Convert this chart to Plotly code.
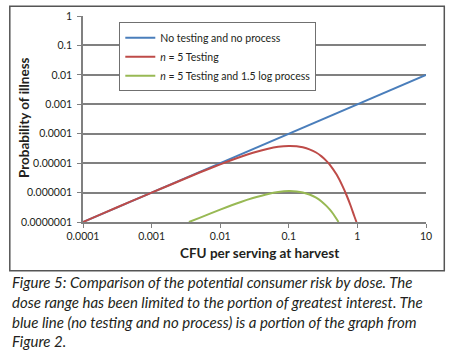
import plotly.graph_objects as go

# ---- data ----
x_blue = [0.0001, 10]
y_blue = [1e-7, 1e-2]

x_red = [0.0001, 0.0002, 0.0005, 0.001, 0.002, 0.005, 0.01, 0.02, 0.03, 0.05, 0.07,
         0.1, 0.13, 0.16, 0.2, 0.25, 0.3, 0.35, 0.4, 0.5, 0.6, 0.7, 0.8, 0.9, 0.97]
y_red = [1.0e-7, 2.0e-7, 5.0e-7, 9.9e-7, 1.96e-6, 4.8e-6, 9.1e-6, 1.65e-5, 2.25e-5, 3.1e-5, 3.6e-5,
         3.85e-5, 3.75e-5, 3.45e-5, 2.95e-5, 2.3e-5, 1.7e-5, 1.22e-5, 8.6e-6, 4.0e-6, 1.75e-6,
         7.8e-7, 3.5e-7, 1.6e-7, 1.0e-7]

x_green = [0.0035, 0.005, 0.01, 0.02, 0.03, 0.05, 0.07, 0.1, 0.13, 0.16, 0.2, 0.25, 0.3,
           0.35, 0.4, 0.45, 0.5, 0.53]
y_green = [1.0e-7, 1.38e-7, 2.64e-7, 4.8e-7, 6.5e-7, 9.0e-7, 1.04e-6, 1.12e-6, 1.09e-6,
           1.01e-6, 8.6e-7, 6.7e-7, 5.0e-7, 3.6e-7, 2.57e-7, 1.8e-7, 1.24e-7, 1.0e-7]

series_names = ["No testing and no process", "<i>n</i> = 5 Testing",
                "<i>n</i> = 5 Testing and 1.5 log process"]
series_colors = ["#4A7EBB", "#BE4B48", "#98B954"]

x_tickvals = [0.0001, 0.001, 0.01, 0.1, 1, 10]
x_ticktext = ["0.0001", "0.001", "0.01", "0.1", "1", "10"]
y_tickvals = [1e-7, 1e-6, 1e-5, 1e-4, 1e-3, 1e-2, 1e-1, 1]
y_ticktext = ["0.0000001", "0.000001", "0.00001", "0.0001", "0.001", "0.01", "0.1", "1"]

x_title = "CFU per serving at harvest"
y_title = "Probability of illness"
caption_lines = [
    "Figure 5: Comparison of the potential consumer risk by dose. The",
    "dose range has been limited to the portion of greatest interest. The",
    "blue line (no testing and no process) is a portion of the graph from",
    "Figure 2.",
]

CHART_FONT = "Lato, Liberation Sans, sans-serif"
CAPTION_FONT = "Lato, Open Sans, sans-serif"
GRID = "#808080"
TXT = "#231F20"

fig = go.Figure()
for xs, ys, name, col in zip([x_blue, x_red, x_green], [y_blue, y_red, y_green],
                             series_names, series_colors):
    fig.add_trace(go.Scatter(x=xs, y=ys, mode="lines", name=name,
                             line=dict(color=col, width=2, shape="spline", smoothing=0.6)))

# plot area in pixels: x 82.7..425.7, y 15.7..221.7
L, R, T, B = 82.7, 425.7, 15.7, 221.7
W, H = R - L, B - T


def px(xp):
    return (xp - L) / W


def py(yp):
    return (B - yp) / H


fig.update_layout(
    width=450, height=352,
    margin=dict(l=83, r=24, t=16, b=130),
    paper_bgcolor="white", plot_bgcolor="white",
    font=dict(family=CHART_FONT, size=11, color=TXT),
    xaxis=dict(type="log", range=[-4, 1], tickvals=x_tickvals, ticktext=x_ticktext,
               showgrid=False, showline=True, linecolor=GRID, linewidth=1.5,
               ticks="outside", ticklen=4, tickcolor=GRID, tickwidth=1.2,
               zeroline=False, tickfont=dict(size=10.5), automargin=False),
    yaxis=dict(type="log", range=[-7, 0], tickvals=y_tickvals, ticktext=y_ticktext,
               showgrid=True, gridcolor=GRID, gridwidth=1.7,
               showline=True, linecolor=GRID, linewidth=1.5,
               ticks="outside", ticklen=4, tickcolor=GRID, tickwidth=1.2,
               ticklabelstandoff=3, zeroline=False, tickfont=dict(size=10.5),
               automargin=False),
    legend=dict(x=px(119), y=py(22), xanchor="left", yanchor="top",
                bgcolor="white", bordercolor="#707070", borderwidth=1,
                font=dict(family=CHART_FONT, size=10.5, color=TXT)),
    showlegend=True,
)

# outer frame around the chart
fig.add_shape(type="rect", xref="paper", yref="paper",
              x0=px(9.5), x1=px(444), y0=py(270.5), y1=py(6),
              line=dict(color="#555555", width=1.5), fillcolor="rgba(0,0,0,0)", layer="below")

annotations = [
    dict(text="<b>" + x_title + "</b>", x=px(259.5), y=py(253), xref="paper", yref="paper",
         xanchor="center", yanchor="middle", showarrow=False,
         font=dict(family=CHART_FONT, size=13.5, color=TXT)),
    dict(text="<b>" + y_title + "</b>", x=px(24.5), y=py(117), xref="paper", yref="paper",
         xanchor="center", yanchor="middle", showarrow=False, textangle=-90,
         font=dict(family=CHART_FONT, size=13.5, color=TXT)),
]
caption_y = [282, 302, 321.5, 341]
for line, yc in zip(caption_lines, caption_y):
    annotations.append(dict(text="<i>" + line + "</i>", x=px(9.5), y=py(yc),
                            xref="paper", yref="paper", xanchor="left", yanchor="middle",
                            showarrow=False,
                            font=dict(family=CAPTION_FONT, size=15, color=TXT)))
fig.update_layout(annotations=annotations)

fig.write_html("out.html")
